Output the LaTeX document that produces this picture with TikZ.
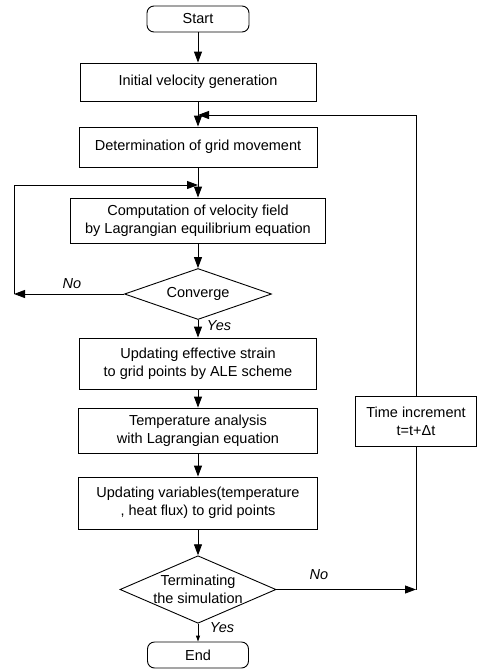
\documentclass[tikz,border=0pt]{standalone}
\usepackage{fontspec}
\setmainfont{Liberation Sans}
\usetikzlibrary{shapes.geometric,arrows.meta}
\begin{document}
\begin{tikzpicture}[x=1pt,y=-1pt,
  every node/.style={font=\fontsize{14.5}{18}\selectfont, align=center, line width=0.9pt},
  procbox/.style={draw, rectangle, inner sep=2pt},
  termbox/.style={draw, rectangle, rounded corners=7pt, inner sep=2pt},
  decbox/.style={draw, diamond, inner sep=0pt, shape aspect=2.3},
  lbl/.style={font=\fontsize{14.5}{18}\selectfont\itshape},
  arr/.style={-{Triangle[length=11pt,width=8pt]}},
  smallarr/.style={-{Triangle[length=6pt,width=4pt]}},
  line width=0.9pt]
\useasboundingbox (0,0) rectangle (481,670);
\node[termbox, minimum width=102pt, minimum height=26pt] (start) at (198,19) {Start};
\node[procbox, minimum width=236pt, minimum height=38pt] (init) at (198,82) {Initial velocity generation};
\node[procbox, minimum width=238pt, minimum height=40pt] (det) at (198,147) {Determination of grid movement};
\node[procbox, minimum width=255pt, minimum height=45pt] (comp) at (198,220.5) {Computation of velocity field\\by Lagrangian equilibrium equation};
\node[decbox, minimum width=147pt, minimum height=51pt] (conv) at (198,294) {Converge};
\node[procbox, minimum width=237pt, minimum height=51pt] (upd) at (198,363.5) {Updating effective strain\\to grid points by ALE scheme};
\node[procbox, minimum width=239pt, minimum height=45pt] (temp) at (198,430.5) {Temperature analysis\\with Lagrangian equation};
\node[procbox, minimum width=239pt, minimum height=52pt] (var) at (198,503) {Updating variables(temperature\\, heat flux) to grid points};
\node[decbox, minimum width=156pt, minimum height=67pt] (term) at (198,589.5) {Terminating\\the simulation};
\node[termbox, minimum width=101pt, minimum height=26pt] (end) at (198,655) {End};
\node[procbox, minimum width=121pt, minimum height=50pt] (time) at (416,421) {Time increment\\t=t+Δt};

\coordinate (j1) at (198,115);
\coordinate (j2) at (198,185);
\coordinate (nl) at (14,294);
\coordinate (tr) at (416,589.5);

\draw[arr] (start) -- (init);
\draw[arr] (init) -- (det);
\draw[arr] (det) -- (comp);
\draw[arr] (comp) -- (conv);
\draw[arr] (conv) -- (upd);
\draw[arr] (upd) -- (temp);
\draw[arr] (temp) -- (var);
\draw[arr] (var) -- (term);
\draw[smallarr] (term) -- (end);
\draw[arr] (conv.west) -- (nl);
\draw[arr] (nl) |- (j2);
\draw[arr] (term.east) -- (tr);
\draw (tr) -- (time.south);
\draw[arr] (time.north) |- (j1);

\node[lbl] (no1) at (72,284) {No};
\node[lbl] (yes1) at (219,326) {Yes};
\node[lbl] (no2) at (319,575) {No};
\node[lbl] (yes2) at (222,628) {Yes};
\end{tikzpicture}
\end{document}
